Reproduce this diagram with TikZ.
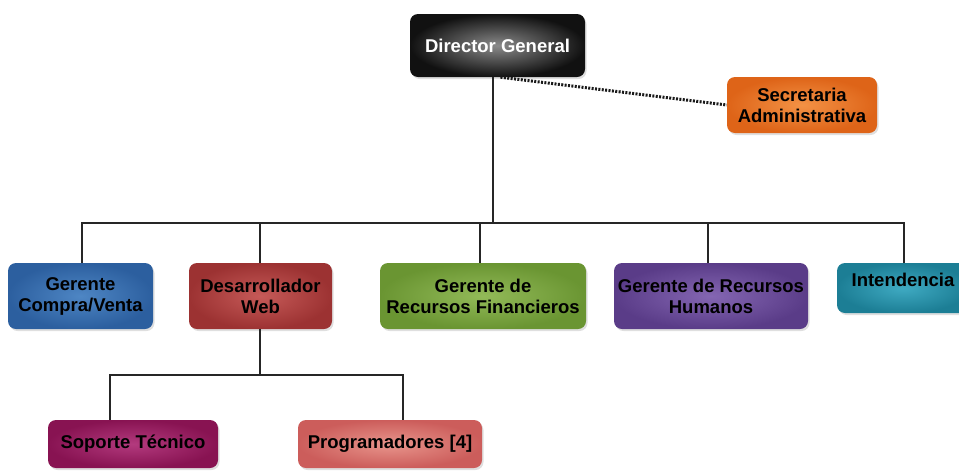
\documentclass[tikz,border=0pt]{standalone}
\usepackage{fontspec}
\setmainfont{Liberation Sans}
\usetikzlibrary{shadows}
\definecolor{dirout}{HTML}{111111}
\definecolor{dirin}{HTML}{8A8A8A}
\definecolor{orgout}{HTML}{DE6418}
\definecolor{orgin}{HTML}{F39245}
\definecolor{bluout}{HTML}{2C5F9F}
\definecolor{bluin}{HTML}{4E86C4}
\definecolor{redout}{HTML}{9C3232}
\definecolor{redin}{HTML}{C65A58}
\definecolor{grnout}{HTML}{6A9532}
\definecolor{grnin}{HTML}{92BA58}
\definecolor{purout}{HTML}{5A3C88}
\definecolor{purin}{HTML}{8466B2}
\definecolor{tealout}{HTML}{1C7E95}
\definecolor{tealin}{HTML}{3FAAC2}
\definecolor{magout}{HTML}{881352}
\definecolor{magin}{HTML}{B33A7E}
\definecolor{salout}{HTML}{CC5D5B}
\definecolor{salin}{HTML}{E8958C}
\tikzset{
  orgbox/.style n args={2}{rectangle, rounded corners=8pt, inner sep=1pt,
    align=center, font=\fontsize{18.5}{21}\selectfont\bfseries,
    shading=radial, inner color=#2, outer color=#1,
    drop shadow={shadow xshift=1.5pt, shadow yshift=-2pt, opacity=0.25}},
  link/.style={line width=2.6pt, draw=black!85},
  aide/.style={line width=3pt, draw=black!90, dash pattern=on 2pt off 1.4pt}
}
\begin{document}
\begin{tikzpicture}[x=1pt,y=-1pt]
\useasboundingbox (0,0) rectangle (959,472);
\clip (0,0) rectangle (959,472);

% top level and staff position
\node[orgbox={dirout}{dirin}, minimum width=175pt, minimum height=63pt, text=white]
  (dir) at (497.5,45.5) {Director General};
\node[orgbox={orgout}{orgin}, minimum width=150pt, minimum height=56pt]
  (sec) at (802,105) {Secretaria\\Administrativa};

% managers
\node[orgbox={bluout}{bluin}, minimum width=145pt, minimum height=66pt]
  (cv) at (80.5,296) {Gerente\\Compra/Venta};
\node[orgbox={redout}{redin}, minimum width=143pt, minimum height=66pt]
  (web) at (260.5,296) {Desarrollador\\Web};
\node[orgbox={grnout}{grnin}, minimum width=206pt, minimum height=66pt]
  (fin) at (483,296) {Gerente de\\Recursos Financieros};
\node[orgbox={purout}{purin}, minimum width=194pt, minimum height=66pt]
  (rh) at (711,296) {Gerente de Recursos\\Humanos};
\node[orgbox={tealout}{tealin}, minimum width=132pt, minimum height=50pt, text depth=16pt]
  (int) at (903,288) {Intendencia};

% web team
\node[orgbox={magout}{magin}, minimum width=170pt, minimum height=48pt]
  (sop) at (133,444) {Soporte Técnico};
\node[orgbox={salout}{salin}, minimum width=184pt, minimum height=48pt]
  (prog) at (390,444) {Programadores [4]};

% branching points
\coordinate (bus) at (493,223);
\coordinate (wbus) at (260,375);

% connectors
\draw[aide] ([xshift=3pt]dir.south) -- (sec.west);
\draw[link] ([xshift=-4.5pt]dir.south) -- (bus);
\draw[link] (cv.north -| 82,0) |- (bus) -| (int.north -| 904,0);
\draw[link] (web.north -| 260,0) -- (260,223);
\draw[link] (fin.north -| 480,0) -- (480,223);
\draw[link] (rh.north -| 708,0) -- (708,223);
\draw[link] (web.south -| 260,0) -- (wbus);
\draw[link] (sop.north -| 110,0) |- (wbus) -| (prog.north -| 403,0);
\end{tikzpicture}
\end{document}
